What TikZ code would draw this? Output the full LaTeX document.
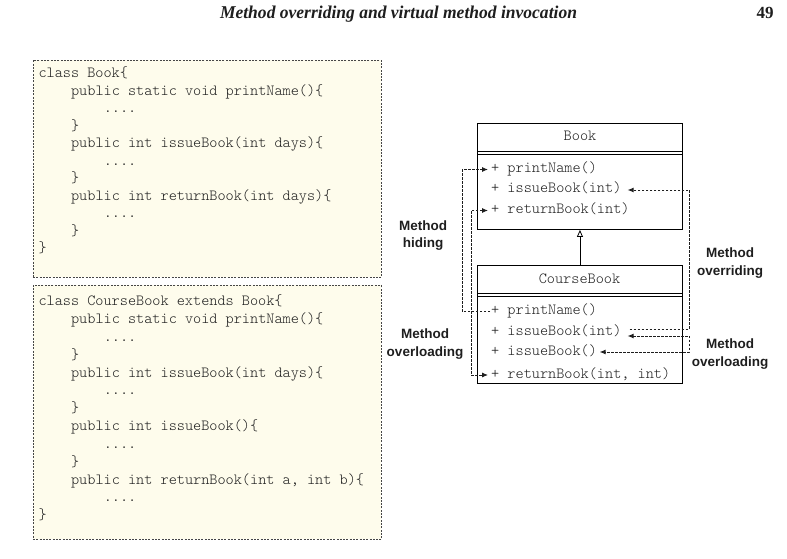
\documentclass[tikz,border=0pt]{standalone}
\usepackage{graphicx}
\usepackage{fontspec}
\setmainfont{Liberation Serif}
\newfontfamily\monof{lmmonolt10-regular}[Extension=.otf]
\newfontfamily\sansf{Liberation Sans}
\usetikzlibrary{arrows.meta}
\definecolor{codefill}{RGB}{254,252,236}
\definecolor{codeedge}{RGB}{70,70,70}
\definecolor{ink}{RGB}{30,30,30}
\begin{document}
\begin{tikzpicture}[x=1pt,y=-1pt,
  codebox/.style={draw=codeedge, fill=codefill, line width=0.8pt, dash pattern=on 2pt off 1.3pt, inner sep=0pt, anchor=north west},
  code/.style={anchor=west, inner sep=0pt, text height=9pt, text depth=3pt, text=ink, font=\monof\fontsize{15.5}{18}\selectfont},
  umlbox/.style={draw=black, line width=0.9pt, inner sep=0pt, anchor=north west},
  umltitle/.style={inner sep=0pt, text height=9pt, text depth=3pt, text=ink, font=\monof\fontsize{15.5}{18}\selectfont},
  lbl/.style={align=center, inner sep=0pt, text=ink, font=\sansf\bfseries\fontsize{13.5}{17.5}\selectfont},
  conn/.style={draw=ink, dash pattern=on 2.5pt off 1.5pt, line width=0.9pt},
  tipe/.style={-{Latex[length=6pt,width=5pt]}},
  tipb/.style={{Latex[length=6pt,width=5pt]}-{Latex[length=6pt,width=5pt]}}
]
\useasboundingbox (0,0) rectangle (787,559);

% header
\node[anchor=base, inner sep=0pt, text=ink] (title) at (398.5,18.3)
  {\resizebox{357pt}{12.5pt}{\bfseries\itshape Method overriding and virtual method invocation}};
\node[anchor=base, inner sep=0pt, text=ink, font=\bfseries\fontsize{17}{20}\selectfont] (pg) at (765,18.3) {49};

% code box 1
\node[codebox, minimum width=348.5pt, minimum height=217pt] (box1) at (32.5,60) {};
\node[code] (a0)  at (38.3,75)    {class Book\{};
\node[code] (a1)  at (70.9,92.45) {public static void printName()\{};
\node[code] (a2)  at (103.6,109.9) {....};
\node[code] (a3)  at (70.9,127.35) {\}};
\node[code] (a4)  at (70.9,144.8) {public int issueBook(int days)\{};
\node[code] (a5)  at (103.6,162.25) {....};
\node[code] (a6)  at (70.9,179.7) {\}};
\node[code] (a7)  at (70.9,197.15) {public int returnBook(int days)\{};
\node[code] (a8)  at (103.6,214.6) {....};
\node[code] (a9)  at (70.9,232.05) {\}};
\node[code] (a10) at (38.3,249.5) {\}};

% code box 2
\node[codebox, minimum width=348.5pt, minimum height=254pt] (box2) at (32.5,285) {};
\node[code] (b0)  at (38.3,302.7) {class CourseBook extends Book\{};
\node[code] (b1)  at (70.9,320.5) {public static void printName()\{};
\node[code] (b2)  at (103.6,338.4) {....};
\node[code] (b3)  at (70.9,356.2) {\}};
\node[code] (b4)  at (70.9,374.0) {public int issueBook(int days)\{};
\node[code] (b5)  at (103.6,391.9) {....};
\node[code] (b6)  at (70.9,409.7) {\}};
\node[code] (b7)  at (70.9,427.5) {public int issueBook()\{};
\node[code] (b8)  at (103.6,445.3) {....};
\node[code] (b9)  at (70.9,463.2) {\}};
\node[code] (b10) at (70.9,481.0) {public int returnBook(int a, int b)\{};
\node[code] (b11) at (103.6,498.8) {....};
\node[code] (b12) at (38.3,516.7) {\}};

% UML class Book
\node[umlbox, minimum width=205pt, minimum height=106pt] (book) at (477,123) {};
\draw[line width=0.9pt] ([yshift=-28pt]book.north west) -- ([yshift=-28pt]book.north east);
\draw[line width=0.9pt] ([yshift=-31pt]book.north west) -- ([yshift=-31pt]book.north east);
\node[umltitle] (booktitle) at (580,138) {Book};
\node[code] (bpn) at (491,169.5) {+ printName()};
\node[code] (bis) at (491,190)   {+ issueBook(int)};
\node[code] (brb) at (491,210.5) {+ returnBook(int)};

% UML class CourseBook
\node[umlbox, minimum width=205pt, minimum height=118pt] (course) at (477,265) {};
\draw[line width=0.9pt] ([yshift=-28pt]course.north west) -- ([yshift=-28pt]course.north east);
\draw[line width=0.9pt] ([yshift=-31pt]course.north west) -- ([yshift=-31pt]course.north east);
\node[umltitle] (coursetitle) at (579.5,280) {CourseBook};
\node[code] (cpn) at (491,311.5) {+ printName()};
\node[code] (cis) at (491,332)   {+ issueBook(int)};
\node[code] (cib) at (491,352)   {+ issueBook()};
\node[code] (crb) at (491,375)   {+ returnBook(int, int)};

% inheritance
\draw[line width=0.8pt, -{Triangle[open,length=7pt,width=6pt]}] (course.north) -- (book.south);

% connector guides
\coordinate (hx) at (462,0);
\coordinate (ox) at (471,0);
\coordinate (rx) at (689.5,0);
\coordinate (ovs) at ([xshift=8pt,yshift=3pt]cis.east);
\coordinate (ols) at ([xshift=6pt,yshift=-4pt]cis.east);

% method hiding
\draw[conn, tipe] ([xshift=-1pt]cpn.west) -- (cpn.west -| hx) |- ([xshift=-3pt]bpn.west);
% method overloading (left)
\draw[conn, tipb] ([xshift=-3pt]brb.west) -- (brb.west -| ox) |- ([xshift=-3pt]crb.west);
% method overriding
\draw[conn, tipe] (ovs) -- (ovs -| rx) |- ([xshift=6pt]bis.east);
% method overloading (right)
\draw[conn, tipb] (ols) -- (ols -| rx) |- ([xshift=2.5pt]cib.east);

% labels
\node[lbl] (lhide) at (423,235.5) {Method\\hiding};
\node[lbl] (lolL) at (425,344) {Method\\overloading};
\node[lbl] (lovr) at (730,263) {Method\\overriding};
\node[lbl] (lolR) at (730,354) {Method\\overloading};
\end{tikzpicture}
\end{document}
